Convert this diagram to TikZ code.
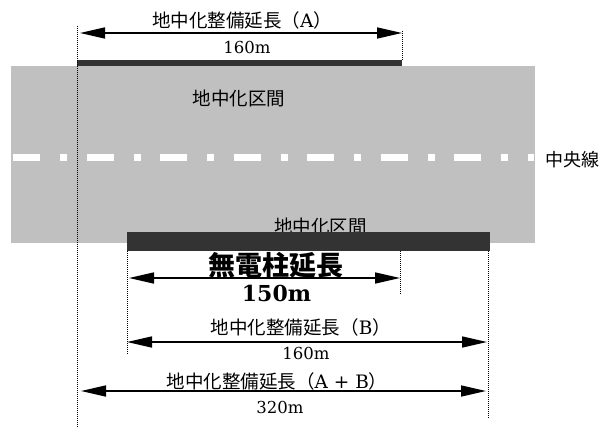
\documentclass[tikz,border=0pt]{standalone}
\usepackage{fontspec}
\setmainfont{DejaVu Serif}
\newfontfamily\cjk{Noto Sans CJK JP}
\usetikzlibrary{arrows.meta}
\definecolor{roadgray}{RGB}{192,192,192}
\definecolor{bardark}{RGB}{51,51,51}
\begin{document}
\begin{tikzpicture}[x=1pt,y=-1pt,
  lbl/.style={inner sep=0pt, font=\cjk\fontsize{18.5}{20}\selectfont},
  num/.style={inner sep=0pt, font=\fontsize{16.5}{18}\selectfont},
  dimline/.style={line width=1.6pt, {Triangle[length=25pt,width=11pt]}-{Triangle[length=25pt,width=11pt]}},
  guide/.style={line width=0.8pt, dash pattern=on 1pt off 1pt},
  centerdash/.style={white, line width=7pt, dash pattern=on 27pt off 20pt on 7pt off 19.5pt}]
\useasboundingbox (0,0) rectangle (601,430);
% road
\fill[roadgray] (11,66) rectangle (535,243);
\coordinate (cl1) at (13,157.5);
\coordinate (cl2) at (534,157.5);
\draw[centerdash] (cl1) -- (cl2);
\node[inner sep=0pt, font=\cjk\fontsize{18}{20}\selectfont, anchor=east] (chuo) at (600,160) {中央線};
\node[lbl] (secU) at (239,98.5) {地中化区間};
\node[lbl] (secL) at (320.5,226) {地中化区間};
% bars
\fill[bardark] (77,60) rectangle (402,66);
\fill[bardark] (127,232) rectangle (490,251);
% guide lines
\coordinate (g1a) at (77,26);  \coordinate (g1b) at (77,428);
\coordinate (g2a) at (402,31); \coordinate (g2b) at (402,60);
\coordinate (g3a) at (400,251); \coordinate (g3b) at (400,295);
\coordinate (g4a) at (127,251); \coordinate (g4b) at (127,354);
\coordinate (g5a) at (488,251); \coordinate (g5b) at (488,418);
\draw[guide] (g1a) -- (g1b);
\draw[guide] (g2a) -- (g2b);
\draw[guide] (g3a) -- (g3b);
\draw[guide] (g4a) -- (g4b);
\draw[guide] (g5a) -- (g5b);
% dimension A
\coordinate (a1) at (80,33); \coordinate (a2) at (402,33);
\draw[dimline] (a1) -- (a2);
\node[lbl] (tA) at (242,20) {地中化整備延長（{\rmfamily A}）};
\node[num] (nA) at (247,47) {160m};
% dimension mudenchu
\coordinate (m1) at (129,278); \coordinate (m2) at (400,278);
\draw[dimline] (m1) -- (m2);
\node[inner sep=0pt, font=\cjk\bfseries\fontsize{27}{29}\selectfont] (tM) at (276,265) {無電柱延長};
\node[inner sep=0pt, font=\bfseries\fontsize{22}{24}\selectfont] (nM) at (276.5,293.5) {150m};
% dimension B
\coordinate (b1) at (127,342); \coordinate (b2) at (487,342);
\draw[dimline] (b1) -- (b2);
\node[lbl] (tB) at (301,327) {地中化整備延長（{\rmfamily B}）};
\node[num] (nB) at (306,353.5) {160m};
% dimension A+B
\coordinate (c1) at (81,391); \coordinate (c2) at (486,391);
\draw[dimline] (c1) -- (c2);
\node[lbl] (tAB) at (277,381) {地中化整備延長（{\rmfamily A + B}）};
\node[num] (nAB) at (280,407) {320m};
\end{tikzpicture}
\end{document}
